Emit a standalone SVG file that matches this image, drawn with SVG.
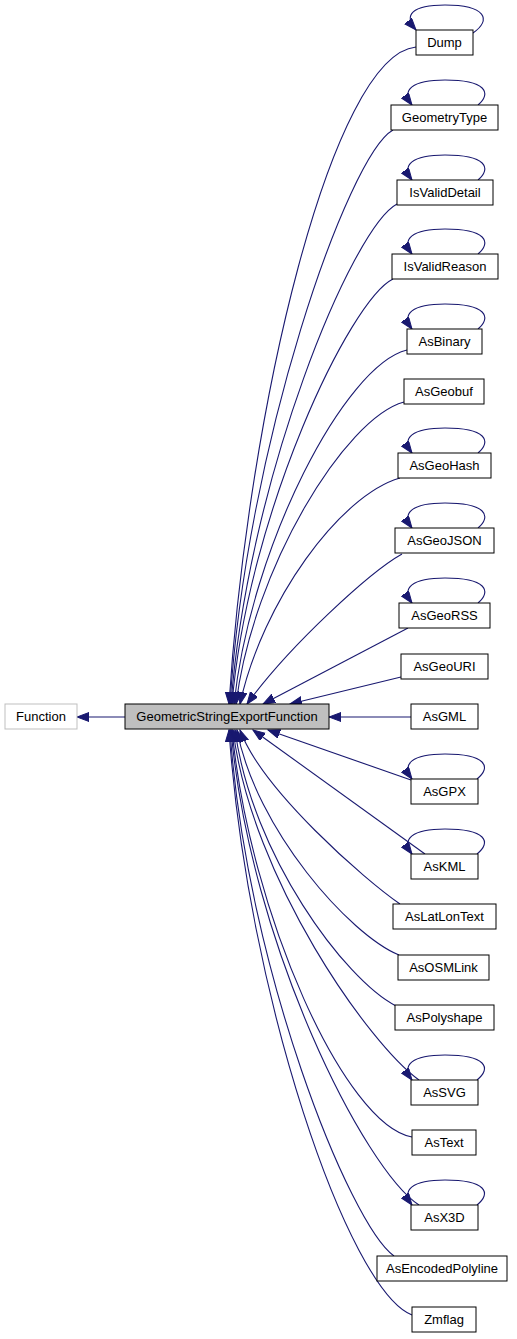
<svg xmlns="http://www.w3.org/2000/svg" width="517" height="1339" viewBox="0 0 517 1339">
<style>
.n rect{fill:#ffffff;stroke:#000000;stroke-width:1}
.n text{font-family:"Liberation Sans",Arial,Helvetica,sans-serif;font-size:13px;text-anchor:middle;fill:#000000}
.e path{fill:none;stroke:#191970;stroke-width:1.1}
</style>
<defs>
<marker id="arr" markerUnits="userSpaceOnUse" markerWidth="14" markerHeight="11" refX="12" refY="4.5" orient="auto">
<path d="M0,0 L12,4.5 L0,9 Z" fill="#191970" stroke="#191970" stroke-width="1"/>
</marker>
</defs>
<rect width="517" height="1339" fill="#ffffff"/>
<g class="e" id="connectors">
<path marker-end="url(#arr)" d="M125,717 L77,717"/>
<path marker-end="url(#arr)" d="M411,717 L329,717"/>
<path marker-end="url(#arr)" d="M416,47 C332,55 248,408 229,704"/>
<path marker-end="url(#arr)" d="M393,130 C348,155 246,446 230,704"/>
<path marker-end="url(#arr)" d="M397,204 C352,228 248,479 231,704"/>
<path marker-end="url(#arr)" d="M393,279 C350,300 248,513 232,704"/>
<path marker-end="url(#arr)" d="M407,350 C345,365 251,545 234,704"/>
<path marker-end="url(#arr)" d="M404,402 C345,418 253,568 236,704"/>
<path marker-end="url(#arr)" d="M400,478 C340,495 262,602 240,704"/>
<path marker-end="url(#arr)" d="M402,554 C370,572 290,645 247,704"/>
<path marker-end="url(#arr)" d="M408,628 L263,704"/>
<path marker-end="url(#arr)" d="M401,677 L290,704"/>
<path marker-end="url(#arr)" d="M411,780 L268,730"/>
<path marker-end="url(#arr)" d="M425,854 L253,730"/>
<path marker-end="url(#arr)" d="M400,904 C365,880 262,790 240,730"/>
<path marker-end="url(#arr)" d="M399,955 C350,935 256,830 237,730"/>
<path marker-end="url(#arr)" d="M396,1006 C345,980 252,855 235,730"/>
<path marker-end="url(#arr)" d="M419,1080 C370,1045 252,880 233,730"/>
<path marker-end="url(#arr)" d="M412,1137 C345,1125 250,915 232,730"/>
<path marker-end="url(#arr)" d="M419,1205 C365,1170 250,945 231,730"/>
<path marker-end="url(#arr)" d="M394,1256 C350,1225 246,967 230,730"/>
<path marker-end="url(#arr)" d="M412,1315 C348,1290 247,994 229,730"/>
<path marker-end="url(#arr)" d="M473,33 C492,20 486,5 445,5 C412,5 403,15 416,30"/>
<path marker-end="url(#arr)" d="M478,105 C492,93 486,80 445,80 C412,80 401,90 412,105"/>
<path marker-end="url(#arr)" d="M478,180 C492,168 486,155 445,155 C412,155 401,165 412,180"/>
<path marker-end="url(#arr)" d="M478,254 C492,242 486,229 445,229 C412,229 401,239 412,254"/>
<path marker-end="url(#arr)" d="M478,329 C492,317 486,304 445,304 C412,304 401,314 412,329"/>
<path marker-end="url(#arr)" d="M478,453 C492,441 486,428 445,428 C412,428 401,438 412,453"/>
<path marker-end="url(#arr)" d="M478,528 C492,516 486,503 445,503 C412,503 401,513 412,528"/>
<path marker-end="url(#arr)" d="M478,603 C492,591 486,578 445,578 C412,578 401,588 412,603"/>
<path marker-end="url(#arr)" d="M477,779 C492,767 486,754 445,754 C412,754 401,764 412,779"/>
<path marker-end="url(#arr)" d="M477,854 C492,842 486,829 445,829 C412,829 401,839 412,854"/>
<path marker-end="url(#arr)" d="M477,1080 C492,1068 486,1055 445,1055 C412,1055 401,1065 412,1080"/>
<path marker-end="url(#arr)" d="M477,1205 C492,1193 486,1180 445,1180 C412,1180 401,1190 412,1205"/>
</g>
<g class="n" id="node-Function"><rect x="5" y="704" width="72" height="25" style="stroke:#bfbfbf"/><text x="41" y="721">Function</text></g>
<g class="n" id="node-GeometricStringExportFunction"><rect x="125" y="704" width="204" height="25" style="fill:#bfbfbf"/><text x="227" y="721">GeometricStringExportFunction</text></g>
<g class="n" id="node-Dump"><rect x="416" y="30" width="57" height="25"/><text x="444.5" y="47">Dump</text></g>
<g class="n" id="node-GeometryType"><rect x="391" y="105" width="107" height="25"/><text x="444.5" y="122">GeometryType</text></g>
<g class="n" id="node-IsValidDetail"><rect x="397" y="180" width="96" height="25"/><text x="445" y="197">IsValidDetail</text></g>
<g class="n" id="node-IsValidReason"><rect x="392" y="254" width="106" height="25"/><text x="445" y="271">IsValidReason</text></g>
<g class="n" id="node-AsBinary"><rect x="407" y="329" width="75" height="25"/><text x="444.5" y="346">AsBinary</text></g>
<g class="n" id="node-AsGeobuf"><rect x="404" y="379" width="80" height="25"/><text x="444" y="396">AsGeobuf</text></g>
<g class="n" id="node-AsGeoHash"><rect x="398" y="453" width="93" height="25"/><text x="444.5" y="470">AsGeoHash</text></g>
<g class="n" id="node-AsGeoJSON"><rect x="395" y="528" width="99" height="25"/><text x="444.5" y="545">AsGeoJSON</text></g>
<g class="n" id="node-AsGeoRSS"><rect x="399" y="603" width="91" height="25"/><text x="444.5" y="620">AsGeoRSS</text></g>
<g class="n" id="node-AsGeoURI"><rect x="401" y="654" width="87" height="25"/><text x="444.5" y="671">AsGeoURI</text></g>
<g class="n" id="node-AsGML"><rect x="411" y="704" width="67" height="25"/><text x="444.5" y="721">AsGML</text></g>
<g class="n" id="node-AsGPX"><rect x="411" y="779" width="67" height="25"/><text x="444.5" y="796">AsGPX</text></g>
<g class="n" id="node-AsKML"><rect x="411" y="854" width="67" height="25"/><text x="444.5" y="871">AsKML</text></g>
<g class="n" id="node-AsLatLonText"><rect x="393" y="904" width="103" height="25"/><text x="444.5" y="921">AsLatLonText</text></g>
<g class="n" id="node-AsOSMLink"><rect x="398" y="955" width="91" height="25"/><text x="443.5" y="972">AsOSMLink</text></g>
<g class="n" id="node-AsPolyshape"><rect x="395" y="1005" width="99" height="25"/><text x="444.5" y="1022">AsPolyshape</text></g>
<g class="n" id="node-AsSVG"><rect x="411" y="1080" width="67" height="25"/><text x="444.5" y="1097">AsSVG</text></g>
<g class="n" id="node-AsText"><rect x="412" y="1130" width="64" height="25"/><text x="444" y="1147">AsText</text></g>
<g class="n" id="node-AsX3D"><rect x="411" y="1205" width="67" height="25"/><text x="444.5" y="1222">AsX3D</text></g>
<g class="n" id="node-AsEncodedPolyline"><rect x="377" y="1256" width="130" height="25"/><text x="442" y="1273">AsEncodedPolyline</text></g>
<g class="n" id="node-Zmflag"><rect x="412" y="1307" width="64" height="25"/><text x="444" y="1324">Zmflag</text></g>
</svg>
